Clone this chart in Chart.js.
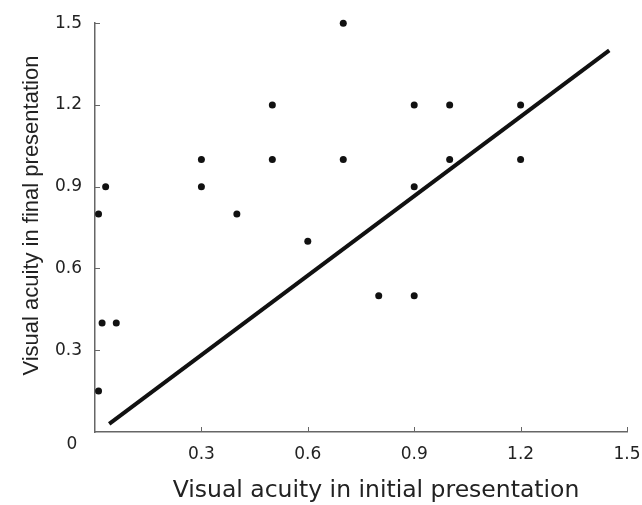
<!DOCTYPE html>
<html>
<head>
<meta charset="utf-8">
<script src="https://cdn.jsdelivr.net/npm/chart.js@4/dist/chart.umd.min.js"></script>
<style>
  html, body { margin: 0; padding: 0; background: #fff; }
  #wrap { width: 642px; height: 505px; }
</style>
</head>
<body>
<div id="wrap"><canvas id="c"></canvas></div>
<script>
// 初期視力 / 最終視力
const initialVA = [0.01, 0.03, 0.02, 0.06, 0.01, 0.3, 0.3, 0.4, 0.5, 0.5, 0.6, 0.7, 0.7, 0.8, 0.9, 0.9, 0.9, 1.0, 1.0, 1.2, 1.2];
const finalVA   = [0.8, 0.9, 0.4, 0.4, 0.15, 1.0, 0.9, 0.8, 1.2, 1.0, 0.7, 1.5, 1.0, 0.5, 0.5, 1.2, 0.9, 1.2, 1.0, 1.2, 1.0];

// 回帰直線の両端
const fitX = [0.04, 1.45];
const fitY = [0.03, 1.40];

const xTicks = [0, 0.3, 0.6, 0.9, 1.2, 1.5];
const yTicks = [0, 0.3, 0.6, 0.9, 1.2, 1.5];

const xTitle = 'Visual acuity in initial presentation';
const yTitle = 'Visual acuity in final presentation';

const AXIS_COLOR = '#666';
const TEXT_COLOR = '#222';

const points = initialVA.map((x, i) => ({ x, y: finalVA[i] }));
const fitLine = fitX.map((x, i) => ({ x, y: fitY[i] }));

// 内向きの目盛り、軸タイトル、原点の「0」
const decorations = {
    id: 'decorations',
    afterDraw(chart) {
        const { ctx, chartArea, scales } = chart;
        const xs = scales.x, ys = scales.y;
        ctx.save();
        ctx.strokeStyle = AXIS_COLOR;
        ctx.lineWidth = 1;
        ctx.beginPath();
        xTicks.slice(1).forEach(v => {
            const px = Math.round(xs.getPixelForValue(v)) + 0.5;
            ctx.moveTo(px, chartArea.bottom);
            ctx.lineTo(px, chartArea.bottom - 5);
        });
        yTicks.slice(1).forEach(v => {
            const py = Math.round(ys.getPixelForValue(v)) + 0.5;
            ctx.moveTo(chartArea.left, py);
            ctx.lineTo(chartArea.left + 5, py);
        });
        ctx.stroke();

        ctx.fillStyle = TEXT_COLOR;
        ctx.textAlign = 'center';
        ctx.textBaseline = 'middle';
        ctx.font = '17px "DejaVu Sans"';
        ctx.fillText('0', chartArea.left - 23, ys.getPixelForValue(0) + 13);

        ctx.font = '23.5px "DejaVu Sans"';
        ctx.fillText(xTitle, (chartArea.left + chartArea.right) / 2 + 15, chartArea.bottom + 59);

        ctx.translate(32, (chartArea.top + chartArea.bottom) / 2 - 12);
        ctx.rotate(-Math.PI / 2);
        ctx.font = '22px "Liberation Sans"';
        ctx.fillText(yTitle, 0, 0);
        ctx.restore();
    }
};

new Chart(document.getElementById('c'), {
    type: 'scatter',
    data: {
        datasets: [
            {
                data: points,
                backgroundColor: '#111',
                borderColor: '#111',
                pointRadius: 3.5,
                pointHoverRadius: 3.5,
                borderWidth: 0,
                clip: false
            },
            {
                type: 'line',
                data: fitLine,
                borderColor: '#111',
                borderWidth: 4,
                pointRadius: 0,
                fill: false,
                tension: 0,
                clip: false
            }
        ]
    },
    options: {
        responsive: true,
        maintainAspectRatio: false,
        animation: false,
        layout: { padding: { top: 22, right: 0, left: 0, bottom: 0 } },
        plugins: { legend: { display: false }, tooltip: { enabled: false } },
        scales: {
            x: {
                type: 'linear',
                min: 0,
                max: 1.5,
                afterBuildTicks: s => { s.ticks = xTicks.map(v => ({ value: v })); },
                afterFit: s => { s.height = 73; s.paddingRight = 15; s.paddingLeft = 0; },
                grid: { display: false, drawTicks: false },
                border: { display: true, color: AXIS_COLOR, width: 1.5 },
                ticks: {
                    padding: 12,
                    color: TEXT_COLOR,
                    font: { family: 'DejaVu Sans', size: 17 },
                    maxRotation: 0,
                    autoSkip: false,
                    callback: v => v === 0 ? '' : v.toFixed(1)
                }
            },
            y: {
                type: 'linear',
                min: 0,
                max: 1.5,
                afterBuildTicks: s => { s.ticks = yTicks.map(v => ({ value: v })); },
                afterFit: s => { s.width = 95; },
                grid: { display: false, drawTicks: false },
                border: { display: true, color: AXIS_COLOR, width: 1.5 },
                ticks: {
                    padding: 13,
                    color: TEXT_COLOR,
                    font: { family: 'DejaVu Sans', size: 17 },
                    autoSkip: false,
                    callback: v => v === 0 ? '' : v.toFixed(1)
                }
            }
        }
    },
    plugins: [decorations]
});
</script>
</body>
</html>
